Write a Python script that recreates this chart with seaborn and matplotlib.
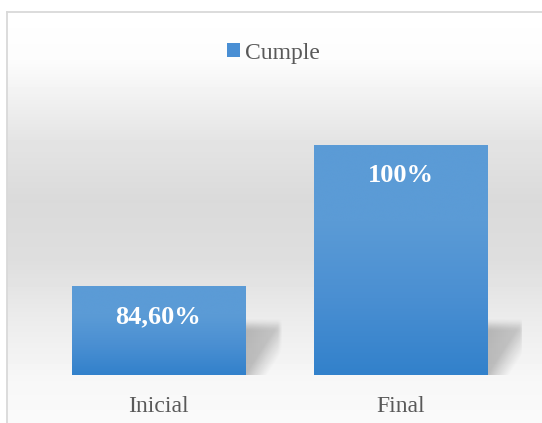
import numpy as np
import pandas as pd
import matplotlib
matplotlib.use("Agg")
import matplotlib.pyplot as plt
import seaborn as sns
from matplotlib.patches import Patch
from matplotlib.colors import LinearSegmentedColormap

# ---- data ----
categories = ["Inicial", "Final"]
values = [84.60, 100.0]
value_labels = ["84,60%", "100%"]
series_name = "Cumple"

df = pd.DataFrame({"Etapa": categories, "Porcentaje": values})

plt.rcParams["font.family"] = ["Liberation Serif", "DejaVu Serif"]

W, H = 542, 423
fig = plt.figure(figsize=(W / 100, H / 100), dpi=100)

# ---- background (chart area gradient + border) ----
bg = fig.add_axes([0, 0, 1, 1], zorder=-10)
stops_y = [0, 12, 60, 100, 140, 200, 260, 320, 380, 423]
stops_c = [255, 255, 252, 240, 228, 218, 222, 236, 247, 250]
col = np.interp(np.arange(H), stops_y, stops_c) / 255.0
img = np.repeat(col[:, None], W, axis=1)
img[:12, :] = 1.0
img[:, :7] = 1.0
bg.imshow(img, cmap="gray", vmin=0, vmax=1, extent=(0, W, H, 0), aspect="auto",
          interpolation="bilinear")
bg.plot([7, 7], [12, H], color="#d9d9d9", lw=1.3)
bg.plot([7, W], [12, 12], color="#d9d9d9", lw=1.3)
bg.set_xlim(0, W)
bg.set_ylim(H, 0)
bg.axis("off")

# ---- main axes ----
ax = fig.add_axes([37.5 / W, (H - 375) / H, 484 / W, (375 - 99) / H])
ax.patch.set_alpha(0)
sns.barplot(data=df, x="Etapa", y="Porcentaje", ax=ax, width=0.715,
            color="#4a8fd4", saturation=1)
ymin, ymax = 75, 105
ax.set_ylim(ymin, ymax)
xlim = ax.get_xlim()

cmap = LinearSegmentedColormap.from_list("bar", ["#3281cb", "#4a8fd2", "#5b9bd6", "#5b9bd6"])
grad = np.linspace(0, 1, 256)[:, None]

# shadow alpha array
nv, nu = 60, 40
v = np.linspace(0, 1, nv)[:, None]
u = np.linspace(0, 1, nu)[None, :]
top_fade = np.clip(v / 0.25, 0, 1)
top_fade = top_fade * top_fade * (3 - 2 * top_fade)
diag = np.clip((1.6 - (u + v)) / 0.6, 0, 1)
right_fade = np.clip((1 - u) / 0.12, 0, 1)
alpha = 0.24 * top_fade * diag * right_fade * (1 - 0.3 * u)
shadow = np.zeros((nv, nu, 4))
shadow[..., 3] = alpha

for p, lab in zip(ax.patches, value_labels):
    x0, w = p.get_x(), p.get_width()
    y1 = p.get_y() + p.get_height()
    y0 = max(ymin, p.get_y())
    ax.imshow(grad, extent=(x0, x0 + w, y0, y1), origin="lower", cmap=cmap,
              aspect="auto", zorder=2, interpolation="bicubic")
    ax.imshow(shadow, extent=(x0 + w, x0 + w + 0.155, y0, y0 + 6.2),
              origin="upper", aspect="auto", zorder=1.5, interpolation="bilinear")
    p.set_visible(False)
    ax.annotate(lab, xy=(x0 + w / 2, y1), xytext=(0, -30), textcoords="offset pixels",
                ha="center", va="center", color="white", fontsize=19,
                fontweight="bold", zorder=3)

ax.set_xlim(xlim)
ax.set_ylim(ymin, ymax)
ax.set_xlabel("")
ax.set_ylabel("")
ax.set_yticks([])
for s in ax.spines.values():
    s.set_visible(False)
ax.tick_params(axis="x", length=0, pad=15, labelsize=17, labelcolor="#595959")

# ---- legend ----
fig.legend(handles=[Patch(facecolor="#4a8fd4", edgecolor="none", label=series_name)],
           loc="center", bbox_to_anchor=(273.5 / W, 1 - 53 / H), frameon=False,
           fontsize=17, handlelength=0.55, handleheight=0.55, handletextpad=0.2,
           labelcolor="#595959")

fig.savefig("out.png", dpi=100)
